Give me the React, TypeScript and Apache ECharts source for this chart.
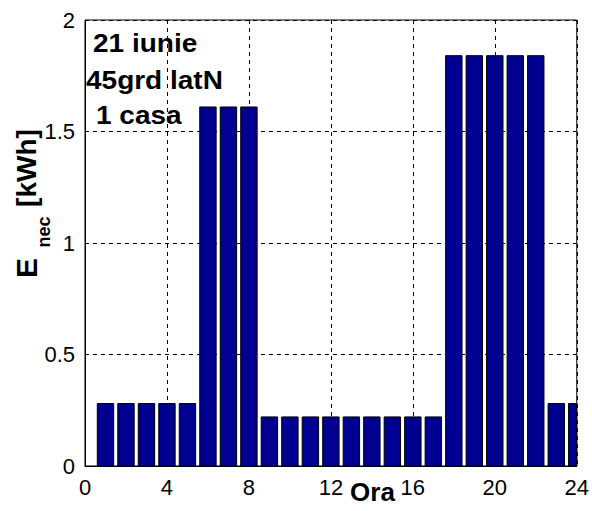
import React, { useEffect, useRef } from "react";
import * as echarts from "echarts";

const hours = [1, 2, 3, 4, 5, 6, 7, 8, 9, 10, 11, 12, 13, 14, 15, 16, 17, 18, 19, 20, 21, 22, 23, 24];
const energy = [0.28, 0.28, 0.28, 0.28, 0.28, 1.61, 1.61, 1.61, 0.22, 0.22, 0.22, 0.22, 0.22, 0.22, 0.22, 0.22, 0.22, 1.84, 1.84, 1.84, 1.84, 1.84, 0.28, 0.28];
const annotations = ["21 iunie", "45grd latN", "1 casa"];
const xAxisName = "Ora";
const yAxisMain = "E";
const yAxisSub = "nec";
const yAxisUnit = "[kWh]";

const FONT = "'Liberation Sans', Arial, Helvetica, sans-serif";
const BAR_FRACTION = 0.8;

export default function App() {
  const ref = useRef<HTMLDivElement>(null);
  useEffect(() => {
    if (!ref.current) return;
    const chart = echarts.init(ref.current, null, { renderer: "svg" });
    const annX = [93, 86, 96];
    const annY = [44, 81, 116];
    chart.setOption({
      animation: false,
      backgroundColor: "#fff",
      grid: {
        left: 85,
        right: 12,
        top: 20,
        bottom: 45,
        show: true,
        borderColor: "#000",
        borderWidth: 1,
        backgroundColor: "transparent",
      },
      xAxis: {
        type: "value",
        min: 0,
        max: 24,
        interval: 4,
        axisLine: { show: true, lineStyle: { color: "#000", width: 1 } },
        axisTick: { show: false },
        axisLabel: { color: "#000", fontSize: 22, fontFamily: FONT, margin: 10 },
        splitLine: { show: true, lineStyle: { color: "#000", width: 1, type: [4, 4] } },
      },
      yAxis: {
        type: "value",
        min: 0,
        max: 2,
        interval: 0.5,
        axisLine: { show: true, lineStyle: { color: "#000", width: 1 } },
        axisTick: { show: false },
        axisLabel: { color: "#000", fontSize: 22, fontFamily: FONT, margin: 10 },
        splitLine: { show: true, lineStyle: { color: "#000", width: 1, type: [4, 4] } },
      },
      series: [
        {
          type: "custom",
          data: hours.map((h, i) => [h, energy[i]]),
          encode: { x: 0, y: 1 },
          renderItem: (params: any, api: any) => {
            const x = api.value(0);
            const y = api.value(1);
            const top = api.coord([x, y]);
            const base = api.coord([x, 0]);
            const w = api.size([1, 0])[0] * BAR_FRACTION;
            const cs = params.coordSys;
            const rect = echarts.graphic.clipRectByRect(
              { x: top[0] - w / 2, y: top[1], width: w, height: base[1] - top[1] },
              { x: cs.x, y: cs.y, width: cs.width, height: cs.height }
            );
            if (!rect) return null;
            return {
              type: "rect",
              shape: rect,
              style: { fill: "#000090", stroke: "#000", lineWidth: 1 },
            };
          },
        },
      ],
      graphic: [
        ...annotations.map((t, i) => ({
          type: "text",
          x: annX[i],
          y: annY[i],
          scaleX: 1.12,
          z: 100,
          style: {
            text: t,
            fontSize: 25,
            fontWeight: "bold",
            fontFamily: FONT,
            fill: "#000",
            align: "left",
            verticalAlign: "middle",
          },
        })),
        {
          type: "text",
          x: 372.5,
          y: 492,
          z: 100,
          style: {
            text: xAxisName,
            fontSize: 26,
            fontWeight: "bold",
            fontFamily: FONT,
            fill: "#000",
            align: "center",
            verticalAlign: "middle",
          },
        },
        {
          type: "text",
          x: 26,
          y: 268,
          rotation: Math.PI / 2,
          z: 100,
          style: {
            text: yAxisMain,
            fontSize: 30,
            fontWeight: "bold",
            fontFamily: FONT,
            fill: "#000",
            align: "center",
            verticalAlign: "middle",
          },
        },
        {
          type: "text",
          x: 43.5,
          y: 232,
          rotation: Math.PI / 2,
          z: 100,
          style: {
            text: yAxisSub,
            fontSize: 18,
            fontWeight: "bold",
            fontFamily: FONT,
            fill: "#000",
            align: "center",
            verticalAlign: "middle",
          },
        },
        {
          type: "text",
          x: 26,
          y: 168,
          rotation: Math.PI / 2,
          z: 100,
          style: {
            text: yAxisUnit,
            fontSize: 28,
            fontWeight: "bold",
            fontFamily: FONT,
            fill: "#000",
            align: "center",
            verticalAlign: "middle",
          },
        },
      ],
    });
    return () => chart.dispose();
  }, []);
  return (
    <div
      ref={ref}
      style={{ position: "fixed", left: 0, top: 0, width: 592, height: 511, background: "#fff" }}
    />
  );
}
